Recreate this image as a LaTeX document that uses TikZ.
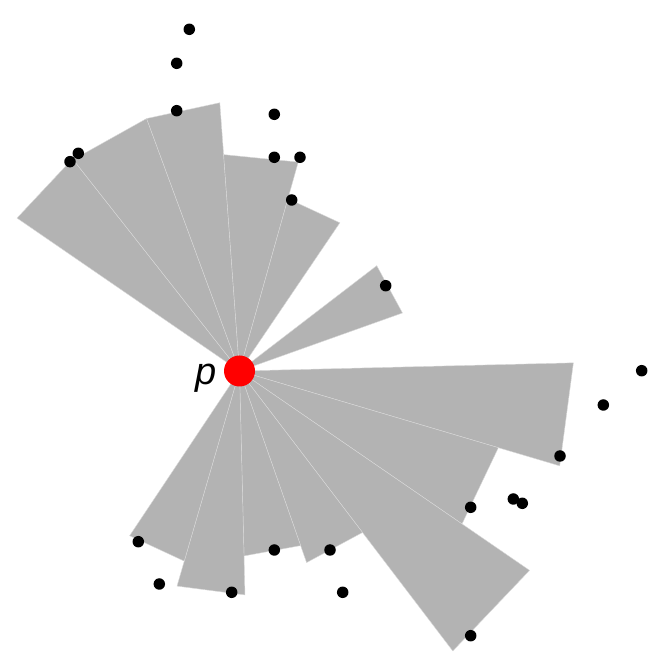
\documentclass[tikz,border=0pt]{standalone}
\usepackage{fontspec}
\setmainfont{Liberation Sans}
\usepackage{tikz}
\usetikzlibrary{positioning}
\definecolor{conegray}{RGB}{179,179,179}

\begin{document}
\begin{tikzpicture}[
      x=1pt,y=1pt,
      cone/.style={fill=conegray,draw=white!85!black,line width=0.4pt,line join=round},
      site/.style={circle,fill=black,inner sep=0pt,minimum size=11.5pt},
      query/.style={circle,fill=red,inner sep=0pt,minimum size=31pt},
      qlabel/.style={font=\fontsize{38}{40}\selectfont\itshape,inner sep=0pt}
    ]
    \useasboundingbox (0,0) rectangle (648,656);
    \coordinate (c) at (239.5,285);

    % cones: start angle / end angle / radius
    \foreach \ao/\at/\r in {145.5/128.2/270, 128.2/110.2/269, 110.2/94.2/269,
                            94.2/74.3/217, 74.3/55.9/179, 37.5/19.6/173,
                            1.4/-16.5/334, -16.5/-34.5/270, -34.5/-52.7/352,
                            -52.7/-70.7/203, -70.7/-88.6/185, -88.6/-106.2/224,
                            -106.2/-123.7/198}
      \filldraw[cone] (c) -- +(\ao:\r) -- +(\at:\r) -- cycle;

    % point set
    \foreach \x/\y [count=\i] in {189.3/626.7, 176.7/592.7, 176.7/545.3, 78.3/502.7,
                                  70/494.3, 274.3/541.7, 274.3/498.7, 300/498.7,
                                  291.7/456, 385.7/370.3, 641.7/285.3, 603.3/251,
                                  560/200, 513.3/157, 522.3/152.7, 470.7/148.7,
                                  470.7/20.3, 342.7/63.7, 330/106, 274.3/106,
                                  231.7/63.7, 159.3/72, 138.3/114.3}
      \node[site] (s\i) at (\x,\y) {};

    \node[query] (p) at (c) {};
    \node[qlabel,anchor=base] (plabel) at (206.5,271) {p};
  \end{tikzpicture}
\end{document}
